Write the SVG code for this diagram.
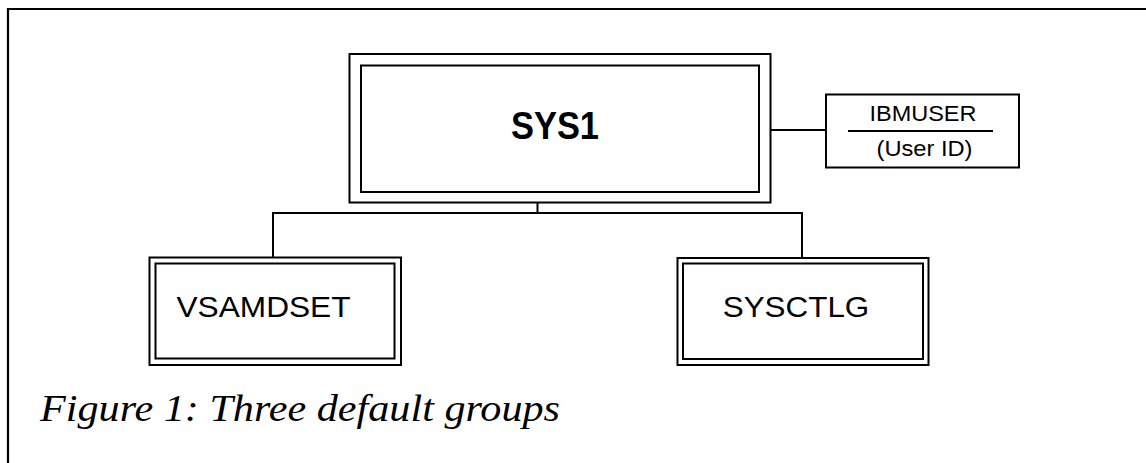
<svg xmlns="http://www.w3.org/2000/svg" width="1146" height="463" viewBox="0 0 1146 463">
  <style>
    .frame { fill: none; stroke: #000; stroke-width: 2.2; }
    .box { fill: #fff; stroke: #000; stroke-width: 2; }
    .wire { fill: none; stroke: #000; stroke-width: 2; }
    .lbl { font-family: "Liberation Sans", Arial, sans-serif; fill: #000; }
    .cap { font-family: "Liberation Serif", "Times New Roman", serif; font-style: italic; fill: #000; }
  </style>
  <rect width="1146" height="463" fill="#fff"/>
  <!-- figure frame: open on the right and bottom -->
  <path class="frame" d="M8,463 V9 H1146"/>

  <g id="connectors">
    <line class="wire" x1="537.5" y1="202.5" x2="537.5" y2="213"/>
    <polyline class="wire" points="273,257 273,213 802,213 802,257"/>
    <line class="wire" x1="771" y1="130" x2="826" y2="130"/>
  </g>

  <g id="sys1">
    <rect class="box" x="349.5" y="54" width="421" height="148.5"/>
    <rect class="box" x="361" y="65.5" width="398" height="126.5"/>
    <text class="lbl" x="555" y="138.5" font-size="39" font-weight="bold" text-anchor="middle" textLength="88" lengthAdjust="spacingAndGlyphs">SYS1</text>
  </g>

  <g id="ibmuser">
    <rect class="box" x="826" y="94.5" width="193" height="73"/>
    <line class="wire" x1="848" y1="131" x2="993" y2="131"/>
    <text class="lbl" x="923" y="121" font-size="22" text-anchor="middle" textLength="107" lengthAdjust="spacingAndGlyphs">IBMUSER</text>
    <text class="lbl" x="924.5" y="156" font-size="22" text-anchor="middle" textLength="96" lengthAdjust="spacingAndGlyphs">(User ID)</text>
  </g>

  <g id="vsamdset">
    <rect class="box" x="149.5" y="257.5" width="251.5" height="107.5"/>
    <rect class="box" x="155.5" y="263.5" width="239" height="95"/>
    <text class="lbl" x="263.5" y="316.7" font-size="30" text-anchor="middle" textLength="174" lengthAdjust="spacingAndGlyphs">VSAMDSET</text>
  </g>

  <g id="sysctlg">
    <rect class="box" x="677.5" y="258" width="251" height="107"/>
    <rect class="box" x="683" y="263.5" width="240" height="95.5"/>
    <text class="lbl" x="796" y="316.7" font-size="30" text-anchor="middle" textLength="146.5" lengthAdjust="spacingAndGlyphs">SYSCTLG</text>
  </g>

  <text class="cap" x="40" y="420.7" font-size="38" textLength="520" lengthAdjust="spacingAndGlyphs">Figure 1: Three default groups</text>
</svg>
